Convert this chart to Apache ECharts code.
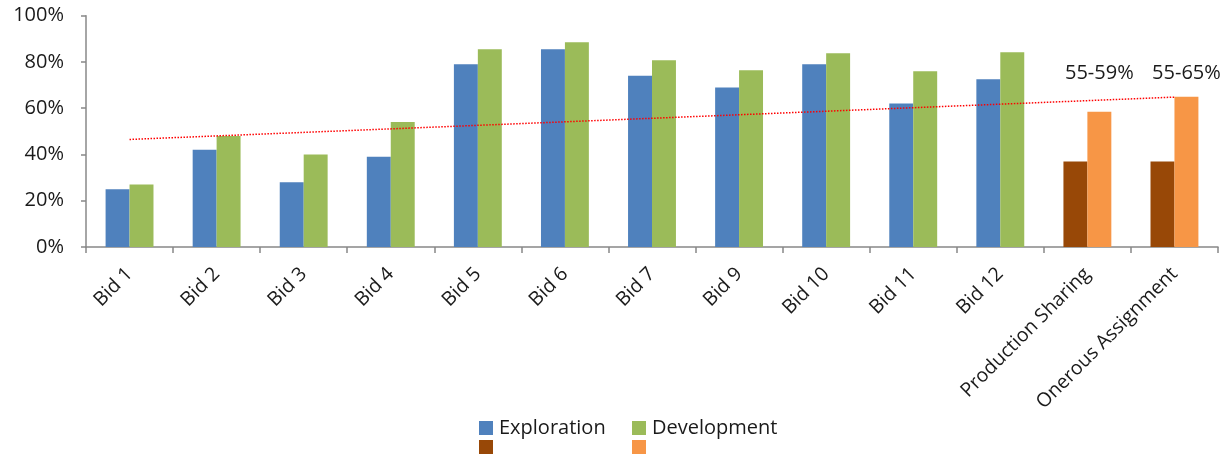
<!DOCTYPE html>
<html>
<head>
<meta charset="utf-8">
<script src="https://cdn.jsdelivr.net/npm/echarts@6/dist/echarts.min.js"></script>
<style>html,body{margin:0;padding:0;background:#fff}#c{width:1228px;height:455px}</style>
</head>
<body>
<div id="c"></div>
<script>
var categories = ['Bid 1','Bid 2','Bid 3','Bid 4','Bid 5','Bid 6','Bid 7','Bid 9','Bid 10','Bid 11','Bid 12','Production Sharing','Onerous Assignment'];
var exploration = [25, 42, 28, 39, 79, 85.5, 74, 69, 79, 62, 72.5, null, null];
var development = [27, 48, 40, 54, 85.5, 88.5, 80.7, 76.4, 83.8, 76, 84.2, null, null];
var newRegimeLow = [null, null, null, null, null, null, null, null, null, null, null, 37, 37];
var newRegimeHigh = [null, null, null, null, null, null, null, null, null, null, null, 58.5, 65];
var rangeLabels = ['55-59%', '55-65%'];
var rangeCategories = ['Production Sharing', 'Onerous Assignment'];
var trendStart = 46.5, trendEnd = 64.8;
var yTicks = [0, 20, 40, 60, 80, 100];

var FONT = 'Open Sans';
var TXT = '#1a1a1a';
var chart = echarts.init(document.getElementById('c'), null, {renderer: 'canvas'});

function legendAt(name, left, top) {
  return {
    data: [name], left: left, top: top, orient: 'horizontal',
    icon: 'rect', itemWidth: 14, itemHeight: 14, itemGap: 0, padding: 0,
    selectedMode: false,
    textStyle: {fontFamily: FONT, fontSize: 20, color: TXT, padding: [0, 0, 0, 1]}
  };
}

chart.setOption({
  animation: false,
  grid: {left: 86, right: 10, top: 15.7, bottom: 208, containLabel: false},
  legend: [
    legendAt('Exploration', 479, 418),
    legendAt('Development', 632, 418),
    legendAt(' ', 479, 437),
    legendAt('  ', 632, 437)
  ],
  xAxis: {
    type: 'category', data: categories, boundaryGap: true,
    axisLine: {lineStyle: {color: '#888', width: 1.5}},
    axisTick: {show: true, length: 6, alignWithLabel: false, lineStyle: {color: '#888', width: 1.5}},
    axisLabel: {rotate: 45, interval: 0, margin: 24, fontFamily: FONT, fontSize: 19.5, color: TXT}
  },
  yAxis: {
    type: 'value', min: yTicks[0], max: yTicks[yTicks.length - 1], interval: 20,
    axisLine: {show: true, lineStyle: {color: '#888', width: 1.5}},
    axisTick: {show: true, length: 5, lineStyle: {color: '#888', width: 1.5}},
    splitLine: {show: false},
    axisLabel: {formatter: '{value}%', margin: 22, fontFamily: FONT, fontSize: 20, color: TXT}
  },
  series: [
    {name: 'Exploration', type: 'bar', stack: 'a', data: exploration, barGap: '0%', barCategoryGap: '45%',
     itemStyle: {color: '#4F81BD'}},
    {name: 'Development', type: 'bar', stack: 'b', data: development,
     itemStyle: {color: '#9BBB59'}},
    {name: ' ', type: 'bar', stack: 'a', data: newRegimeLow,
     itemStyle: {color: '#984807'}},
    {name: '  ', type: 'bar', stack: 'b', data: newRegimeHigh,
     itemStyle: {color: '#F79646'},
     markPoint: {
       symbol: 'circle', symbolSize: 1, itemStyle: {color: 'rgba(0,0,0,0)'},
       label: {show: true, position: 'inside', offset: [0, 0], fontFamily: FONT, fontSize: 20, color: TXT,
               formatter: function (p) { return p.name; }},
       data: rangeCategories.map(function (c, i) { return {name: rangeLabels[i], coord: [c, 75]}; })
     }},
    {name: 'trend', type: 'line', data: [], silent: true,
     markLine: {
       silent: true, symbol: 'none', label: {show: false},
       lineStyle: {color: '#FF0000', type: 'dotted', width: 1.5},
       data: [[{coord: [categories[0], trendStart]}, {coord: [categories[categories.length - 1], trendEnd]}]]
     }}
  ]
});
</script>
</body>
</html>
